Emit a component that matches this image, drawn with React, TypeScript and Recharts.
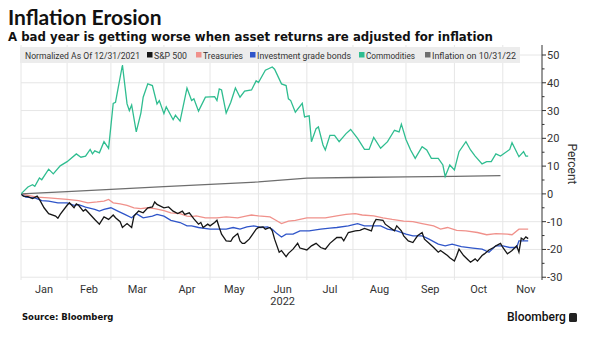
import React from 'react';
import { LineChart, Line, XAxis, YAxis, CartesianGrid } from 'recharts';

// x values are trading days since 12/31/2021
const MONTHS = ['Jan', 'Feb', 'Mar', 'Apr', 'May', 'Jun', 'Jul', 'Aug', 'Sep', 'Oct', 'Nov'];
const MONTH_STARTS = [0, 20, 39, 62, 82, 103, 124, 144, 167, 188, 209];
const NOV_END = 229;
const X_MAX = 226;
const Y_GRID = [-30, -20, -10, 0, 10, 20, 30, 40, 50];
const Y_TICKS = [-30, -25, -20, -15, -10, -5, 0, 5, 10, 15, 20, 25, 30, 35, 40, 45, 50];

const SP500: [number, number][] = [
  [0, 0], [1, -0.8], [3, -1], [5, -1.7], [7, -0.8], [8, -2], [10, -5], [12, -7.1], [15, -8], [16, -8.8],
  [17, -7.4], [20, -4.1], [21, -3.2], [23, -5], [24, -3.6], [25, -4.1], [27, -6.2], [28, -5.6], [30, -7.4],
  [32, -9.2], [34, -10.9], [36, -8.3], [38, -9.2], [40, -7.6], [41, -8.6], [43, -10], [44, -12.1], [46, -10.7],
  [48, -12.1], [49, -8], [51, -6.2], [53, -6.8], [55, -5], [57, -4.7], [58, -2.9], [59, -3.8], [62, -5],
  [64, -4.7], [66, -6.2], [68, -7.1], [70, -6.2], [71, -7.4], [73, -6.8], [75, -9], [77, -10.9], [78, -10.3],
  [79, -12.1], [81, -10.9], [82, -11.5], [84, -10.3], [85, -9.5], [86, -12.1], [87, -14.5], [89, -16.9],
  [91, -17.1], [92, -15.7], [94, -14.3], [95, -16.9], [96, -17.8], [97, -17.8], [99, -16.3], [100, -15.1],
  [102, -12.7], [103, -12.1], [105, -11.9], [106, -12.7], [108, -12.1], [109, -13.3], [110, -16.3], [112, -21],
  [113, -20.4], [115, -22.6], [116, -21.4], [118, -19.9], [120, -17.8], [121, -19.5], [124, -20.2], [126, -18.7],
  [128, -17.8], [130, -19.3], [132, -19.9], [134, -17.8], [137, -15.7], [139, -15.7], [140, -16.9], [142, -13.9],
  [145, -13.3], [147, -13.1], [149, -12.4], [152, -13.3], [153, -10.7], [154, -9.2], [157, -9.5], [158, -10.9],
  [160, -12.1], [162, -13.3], [163, -11.5], [165, -13.3], [166, -15.1], [168, -16.9], [170, -17.5], [172, -15.1],
  [174, -13.9], [175, -16.3], [177, -17.8], [179, -19.3], [181, -21], [182, -20.4], [185, -22.2], [186, -23],
  [188, -24.2], [189, -22.2], [190, -19.9], [192, -22.2], [194, -23.8], [195, -24.6], [197, -23.4], [198, -24.2],
  [200, -22.2], [201, -21.6], [203, -20.2], [205, -19.3], [206, -18.7], [208, -17.8], [209, -19.3], [211, -21.6],
  [213, -20.4], [215, -18.7], [216, -21], [217, -15.9], [218, -16.5], [219, -15.5], [220, -16.1],
];

const TREASURIES: [number, number][] = [
  [0, 0], [3, -0.5], [7, -1.2], [12, -1.4], [16, -1.7], [20, -2], [25, -2.4], [29, -3.2], [33, -2.9], [36, -2.6],
  [38, -2], [40, -3.2], [43, -3.6], [46, -4.1], [49, -5], [52, -5.3], [55, -5], [58, -5.3], [62, -6], [65, -6.8],
  [69, -7.1], [72, -8], [74, -8.2], [76, -7.9], [80, -8.6], [85, -8.6], [89, -8.3], [94, -8.6], [98, -7.9],
  [100, -7.6], [103, -7.9], [108, -8.3], [110, -9.2], [113, -10.7], [116, -9.8], [119, -9.5], [124, -8.6],
  [128, -8.6], [132, -8.6], [137, -7.9], [141, -7.4], [145, -7.1], [148, -7.6], [153, -7.9], [157, -8.6],
  [161, -9.2], [166, -9.8], [170, -10], [174, -10.7], [179, -11.5], [182, -12.7], [185, -12.1], [189, -13.1],
  [193, -13.3], [198, -13.9], [202, -14.7], [206, -14.3], [211, -14.5], [213, -14.7], [216, -12.7], [220, -12.7],
];

const IG_BONDS: [number, number][] = [
  [0, 0], [2, -1.2], [6, -1.4], [9, -2.4], [12, -2.6], [16, -3.2], [20, -3.2], [23, -4.1], [25, -3.9], [28, -4.8],
  [32, -5.6], [34, -6.2], [36, -5.6], [39, -5], [42, -6.2], [45, -7.4], [48, -8.6], [50, -7.1], [53, -8.6],
  [57, -8], [59, -7.4], [62, -8], [65, -9.5], [69, -10.3], [72, -11.5], [74, -11.5], [77, -12.1], [82, -12.7],
  [86, -12.7], [89, -12.7], [92, -12.1], [95, -12.7], [98, -11.9], [101, -11.5], [104, -12.1], [107, -11.9],
  [109, -12.7], [111, -14.3], [113, -15.5], [115, -14.5], [118, -14.5], [121, -13.3], [125, -13.3], [130, -12.7],
  [134, -12.3], [137, -12.1], [142, -11.5], [146, -10.7], [149, -11.5], [153, -11.5], [156, -11.5], [159, -12.7],
  [163, -13.3], [167, -14.5], [170, -15.1], [174, -15.1], [177, -16.3], [181, -18.1], [184, -18.7], [187, -18.1],
  [191, -19], [196, -19.5], [200, -19.9], [203, -21], [206, -18.7], [209, -18.7], [212, -19.3], [215, -19.3],
  [216, -16.9], [220, -16.9],
];

const COMMODITIES: [number, number][] = [
  [0, 0], [3, 2.5], [5, 3.3], [6, 2.7], [8, 5.7], [9, 5.1], [12, 8.9], [14, 7.2], [17, 10.1], [20, 11.6],
  [24, 14.4], [26, 13.2], [28, 13.6], [30, 16], [31, 14.4], [32, 15.5], [34, 14.8], [36, 18.8], [38, 16.4],
  [40, 32.6], [41, 33], [44, 46.4], [46, 32.4], [47, 30], [48, 32], [50, 22.3], [52, 29.1], [53, 34.8],
  [55, 39.6], [57, 39], [59, 32.4], [60, 33.6], [62, 28.9], [63, 31.3], [66, 26.7], [67, 28.3], [69, 26.2],
  [72, 38.1], [74, 33.6], [75, 34.2], [77, 29.8], [80, 34.8], [84, 35], [85, 33.6], [86, 37.8], [87, 37.4],
  [89, 29.1], [91, 33], [93, 38.1], [95, 34.8], [97, 37], [100, 37.4], [102, 40.7], [103, 40.1], [106, 44.5],
  [109, 45.7], [110, 44.9], [113, 39.6], [115, 39], [116, 34.2], [117, 33.6], [119, 29.4], [122, 32.6],
  [123, 27.7], [125, 28.1], [126, 18.8], [128, 23.5], [129, 24.1], [131, 17.6], [132, 15.8], [134, 21.1],
  [136, 21.1], [138, 18.8], [141, 21.7], [143, 23.2], [146, 20], [149, 16], [151, 16], [153, 20.3], [156, 16.4],
  [159, 18.8], [162, 22.9], [164, 22.3], [165, 25.1], [167, 19.6], [169, 15.8], [171, 12.8], [174, 17],
  [176, 15.8], [178, 12.8], [181, 12.8], [183, 10.4], [184, 6.3], [186, 10.4], [188, 8.6], [190, 15.2],
  [193, 18.8], [195, 15.8], [197, 13.6], [200, 10.8], [202, 11.6], [204, 11.6], [206, 14.4], [208, 13.6],
  [212, 16], [213, 18.4], [216, 13.4], [218, 15.2], [219, 13.6], [220, 13.6],
];

const INFLATION: [number, number][] = [
  [0, 0], [20, 0.8], [39, 1.6], [62, 2.6], [82, 3.4], [103, 4.3], [124, 5.7], [144, 5.9], [167, 6.1],
  [188, 6.3], [208, 6.6],
];

const SERIES = [
  { key: 'tsy', name: 'Treasuries', color: '#f0918b', data: TREASURIES },
  { key: 'ig', name: 'Investment grade bonds', color: '#2f55c9', data: IG_BONDS },
  { key: 'sp', name: 'S&P 500', color: '#161616', data: SP500 },
  { key: 'infl', name: 'Inflation on 10/31/22', color: '#6e6e6e', data: INFLATION },
  { key: 'cmd', name: 'Commodities', color: '#2fbd90', data: COMMODITIES },
];

// legend layout: order, swatch x, text width
const LEGEND_ORDER = ['sp', 'tsy', 'ig', 'cmd', 'infl'];
const LEGEND_SWATCH_X = [127, 176, 230, 339, 405];
const LEGEND_TEXT_W = [33, 40, 94, 49, 84];

const labelTicks = MONTH_STARTS.map((s, i) => (s + (MONTH_STARTS[i + 1] ?? NOV_END)) / 2);

const AXIS_FONT = "Roboto, 'DejaVu Sans', sans-serif";

const MonthTick = (props: any) => {
  const { x, y, payload } = props;
  const i = labelTicks.indexOf(payload.value);
  return (
    <g>
      <text x={x} y={y + 13} textAnchor="middle" fontSize={11} fill="#333" fontFamily={AXIS_FONT}>
        {MONTHS[i]}
      </text>
      {MONTHS[i] === 'Jun' && (
        <text x={x} y={y + 25} textAnchor="middle" fontSize={11} fill="#333" fontFamily={AXIS_FONT}>
          2022
        </text>
      )}
    </g>
  );
};

const ValueTick = (props: any) => {
  const { x, y, payload } = props;
  const major = payload.value % 10 === 0;
  return (
    <g>
      <line x1={x} x2={x + (major ? 4 : 2.5)} y1={y} y2={y} stroke="#333" strokeWidth={1} />
      {major && (
        <text x={x + 5} y={y + 4} fontSize={11} fill="#333" fontFamily={AXIS_FONT}>
          {payload.value}
        </text>
      )}
    </g>
  );
};

export default function App() {
  return (
    <div style={{ position: 'relative', width: 609, height: 337, background: '#fff', overflow: 'hidden' }}>
      <style>{'body{margin:0}'}</style>
      <div style={{ position: 'absolute', left: 8, top: 6, fontFamily: 'Lato, sans-serif', fontWeight: 700, fontSize: 21, lineHeight: '21px', color: '#111', whiteSpace: 'nowrap' }}>
        Inflation Erosion
      </div>
      <div style={{ position: 'absolute', left: 8, top: 31, fontFamily: "'DejaVu Sans', sans-serif", fontWeight: 700, fontSize: 11.75, lineHeight: '12px', color: '#111', whiteSpace: 'nowrap' }}>
        A bad year is getting worse when asset returns are adjusted for inflation
      </div>

      <LineChart width={609} height={337} margin={{ top: 45, right: 27, bottom: 27, left: 21 }} style={{ position: 'absolute', left: 0, top: 0 }}>
        <CartesianGrid stroke="#e6e6e6" horizontalValues={Y_GRID} verticalValues={MONTH_STARTS} />
        <XAxis dataKey="x" type="number" domain={[0, X_MAX]} ticks={labelTicks} tick={<MonthTick />} axisLine={false} tickLine={false} tickSize={0} tickMargin={0} height={30} interval={0} allowDataOverflow />
        <YAxis orientation="right" type="number" domain={[-31, 53.6]} ticks={Y_TICKS} tick={<ValueTick />} tickLine={false} tickSize={0} tickMargin={0} axisLine={{ stroke: '#333' }} width={40} interval={0} allowDataOverflow />
        {SERIES.map((s) => (
          <Line
            key={s.key}
            data={s.data.map(([x, v]) => ({ x, v }))}
            dataKey="v"
            name={s.name}
            type="linear"
            stroke={s.color}
            strokeWidth={1.3}
            dot={false}
            activeDot={false}
            isAnimationActive={false}
          />
        ))}
      </LineChart>

      <svg width={520} height={16} style={{ position: 'absolute', left: 20, top: 47 }}>
        <rect x={0} y={0} width={500} height={16} fill="#ececec" />
        <text x={5} y={11.5} fontSize={9.5} fill="#333" fontFamily={AXIS_FONT} textLength={115} lengthAdjust="spacingAndGlyphs">
          Normalized As Of 12/31/2021
        </text>
        {LEGEND_ORDER.map((k, i) => {
          const s = SERIES.find((d) => d.key === k)!;
          return (
            <g key={k}>
              <rect x={LEGEND_SWATCH_X[i]} y={5} width={5.5} height={5.5} fill={s.color} />
              <text x={LEGEND_SWATCH_X[i] + 7} y={11.5} fontSize={9.5} fill="#333" fontFamily={AXIS_FONT} textLength={LEGEND_TEXT_W[i]} lengthAdjust="spacingAndGlyphs">
                {s.name}
              </text>
            </g>
          );
        })}
      </svg>

      <div style={{ position: 'absolute', left: 572, top: 164, transform: 'translate(-50%, -50%) rotate(90deg)', fontFamily: AXIS_FONT, fontSize: 12, color: '#333', whiteSpace: 'nowrap' }}>
        Percent
      </div>

      <div style={{ position: 'absolute', left: 22, top: 312, fontFamily: "'DejaVu Sans', sans-serif", fontWeight: 700, fontSize: 8.5, color: '#111', whiteSpace: 'nowrap' }}>
        Source: Bloomberg
      </div>
      <div style={{ position: 'absolute', left: 507, top: 310, fontFamily: 'Roboto, sans-serif', fontWeight: 500, fontSize: 12, color: '#111', whiteSpace: 'nowrap' }}>
        Bloomberg
      </div>
      <div style={{ position: 'absolute', left: 569, top: 313, width: 8, height: 9, background: '#222', borderRadius: 1.5 }} />
    </div>
  );
}
